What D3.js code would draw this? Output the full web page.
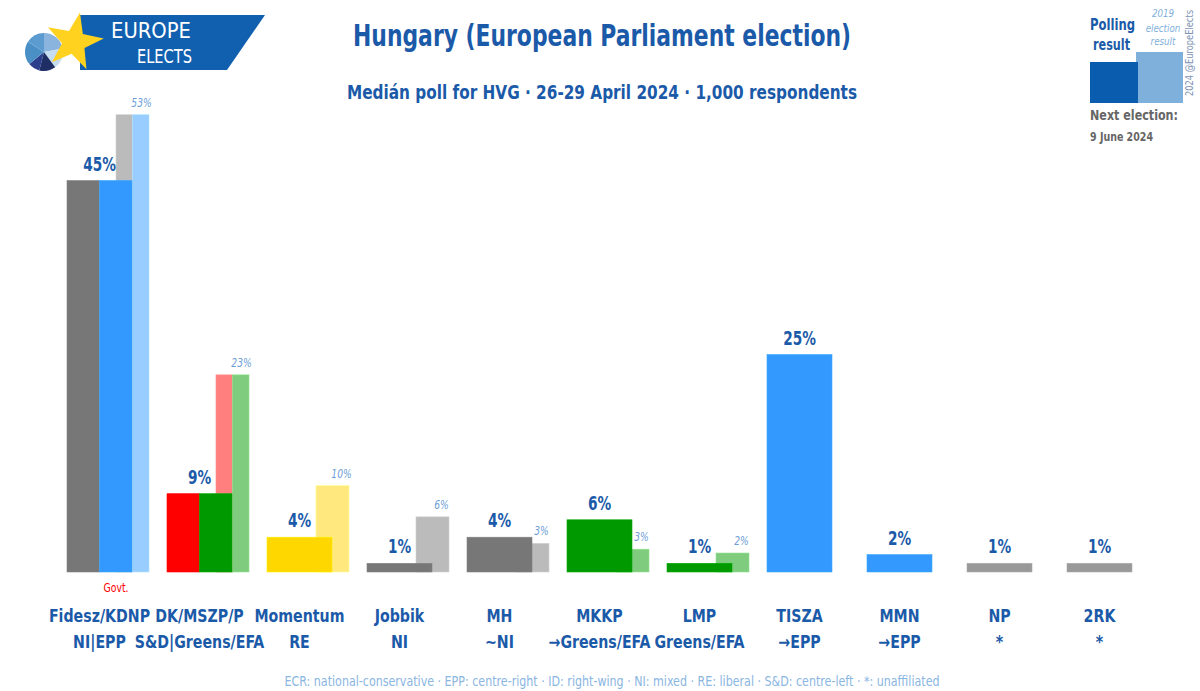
<!DOCTYPE html>
<html><head><meta charset="utf-8">
<script src="https://cdn.jsdelivr.net/npm/d3@7"></script>
<style>
html,body{margin:0;padding:0;background:#fff;}
svg{display:block;font-family:"DejaVu Sans Condensed","DejaVu Sans",sans-serif;}
</style></head>
<body>
<svg id="chart" width="1200" height="691"></svg>
<script>
// ---- data ----
const categories = ["Fidesz/KDNP","DK/MSZP/P","Momentum","Jobbik","MH","MKKP","LMP","TISZA","MMN","NP","2RK"];
const groups = ["NI|EPP","S&D|Greens/EFA","RE","NI","~NI","→Greens/EFA","Greens/EFA","→EPP","→EPP","*","*"];
const pollValues = [45,9,4,1,4,6,1,25,2,1,1];
const prev2019 = [52.56,22.66,9.93,6.34,3.29,2.62,2.18,null,null,null,null];
const pollColors = [["#777777","#3399FF"],["#FF0000","#009900"],["#FFD700"],["#777777"],["#777777"],["#009900"],["#009900"],["#3399FF"],["#3399FF"],["#999999"],["#999999"]];
const prevColors = [["#BBBBBB","#99CCFF"],["#FF7F7F","#7FCC7F"],["#FFE97F"],["#BBBBBB"],["#BBBBBB"],["#7FCC7F"],["#7FCC7F"],[],[],[],[]];
const govtParties = ["Fidesz/KDNP"];
const titleText = "Hungary (European Parliament election)";
const subtitleText = "Medián poll for HVG · 26-29 April 2024 · 1,000 respondents";
const footnoteText = "ECR: national-conservative · EPP: centre-right · ID: right-wing · NI: mixed · RE: liberal · S&D: centre-left · *: unaffiliated";

// ---- helpers ----
function condense(sel, factor){
  sel.each(function(){
    const w = this.getComputedTextLength();
    this.setAttribute("textLength", w*factor);
    this.setAttribute("lengthAdjust","spacingAndGlyphs");
  });
  return sel;
}
function fitWidth(sel, width){
  sel.attr("textLength", width).attr("lengthAdjust","spacingAndGlyphs");
  return sel;
}

// ---- layout ----
const svg = d3.select("#chart");
const DARK = "#1b5aa8";
const LIGHT = "#6e9fd6";
const x = d3.scaleBand().domain(categories).range([50,1150]).padding(0);
const y = d3.scaleLinear().domain([0,50]).range([572,137]);
const pollOff = 17, pollW = 65, prevOff = 66, prevW = 33;

const data = categories.map((c,i)=>({c,i,g:groups[i],v:pollValues[i],p:prev2019[i],pc:pollColors[i],qc:prevColors[i]}));

// previous-result bars (behind)
data.filter(d=>d.p!=null).forEach(d=>{
  const n = d.qc.length, w = prevW/n;
  d.qc.forEach((col,k)=>{
    svg.append("rect").attr("x", x(d.c)+prevOff+k*w)
      .attr("y", y(d.p)).attr("width", w).attr("height", y(0)-y(d.p))
      .attr("fill", col).attr("stroke", d3.color(col).brighter(0.3)).attr("stroke-width",0.6);
  });
  condense(svg.append("text").attr("x", x(d.c)+prevOff+prevW/2+9).attr("y", y(d.p)-8)
    .attr("text-anchor","middle").attr("font-size",12).attr("font-style","italic")
    .attr("fill", LIGHT).text(Math.round(d.p)+"%"), 0.85);
});

// polling bars
data.forEach(d=>{
  const n = d.pc.length, w = pollW/n;
  const cx = x(d.c)+pollOff+pollW/2;
  d.pc.forEach((col,k)=>{
    svg.append("rect").attr("x", x(d.c)+pollOff+k*w).attr("y", y(d.v))
      .attr("width", w).attr("height", y(0)-y(d.v))
      .attr("fill", col).attr("stroke", d3.color(col).brighter(0.3)).attr("stroke-width",0.6);
  });
  condense(svg.append("text").attr("x", cx).attr("y", y(d.v)-10)
    .attr("text-anchor","middle").attr("font-size",19).attr("font-weight","bold")
    .attr("fill", DARK).text(d.v+"%"), 0.8);
  if (govtParties.includes(d.c)) {
    condense(svg.append("text").attr("x", x(d.c)+66).attr("y", 592).attr("text-anchor","middle")
      .attr("font-size",11.5).attr("fill","#FF0000").text("Govt."), 0.9);
  }
  condense(svg.append("text").attr("x", cx).attr("y", 622)
    .attr("text-anchor","middle").attr("font-size",17.5).attr("font-weight","bold")
    .attr("fill", DARK).text(d.c), 0.9);
  condense(svg.append("text").attr("x", cx).attr("y", 648)
    .attr("text-anchor","middle").attr("font-size",17.5).attr("font-weight","bold")
    .attr("fill", DARK).text(d.g), 0.9);
});

// titles
fitWidth(svg.append("text").attr("x",602).attr("y",46).attr("text-anchor","middle")
  .attr("font-size",30).attr("font-weight","bold").attr("fill",DARK).text(titleText), 498);
fitWidth(svg.append("text").attr("x",602).attr("y",99).attr("text-anchor","middle")
  .attr("font-size",20).attr("font-weight","bold").attr("fill",DARK).text(subtitleText), 510);
fitWidth(svg.append("text").attr("x",612).attr("y",686).attr("text-anchor","middle")
  .attr("font-size",13.5).attr("fill","#8ab6e2").text(footnoteText), 655);

// legend (top right)
const lg = svg.append("g");
lg.append("rect").attr("x",1136).attr("y",52).attr("width",47).attr("height",51).attr("fill","#7fb0dc");
lg.append("rect").attr("x",1090).attr("y",62).attr("width",48).attr("height",41).attr("fill","#0a5cae");
fitWidth(lg.append("text").attr("x",1090).attr("y",30).attr("font-size",15).attr("font-weight","bold").attr("fill",DARK).text("Polling"), 45);
fitWidth(lg.append("text").attr("x",1093).attr("y",50).attr("font-size",15).attr("font-weight","bold").attr("fill",DARK).text("result"), 37);
[["2019",17],["election",32],["result",45]].forEach(([t,yy])=>{
  condense(lg.append("text").attr("x",1163).attr("y",yy).attr("text-anchor","middle").attr("font-size",11)
    .attr("font-style","italic").attr("fill","#7fb0dc").text(t), 0.88);
});
fitWidth(lg.append("text").attr("transform","translate(1193,53) rotate(-90)").attr("text-anchor","middle")
  .attr("font-size",10).attr("fill","#7d93b4").text("2024 @EuropeElects"), 86);
fitWidth(lg.append("text").attr("x",1090).attr("y",120).attr("font-size",14).attr("font-weight","bold").attr("fill","#666").text("Next election:"), 88);
fitWidth(lg.append("text").attr("x",1090).attr("y",141).attr("font-size",12).attr("font-weight","bold").attr("fill","#666").text("9 June 2024"), 63);

// logo
const logo = svg.append("g");
logo.append("polygon").attr("points","80,15 265,15 227,70 80,70").attr("fill","#1160b0");
const pie = d3.pie().sort(null)([22,18,14,10,20,16]);
const pieCols = ["#8ab4dd","#c6dcf1","#1f2f66","#2c3e8c","#4a8fc6","#5b9bd0"];
const arc = d3.arc().innerRadius(0).outerRadius(19);
logo.append("g").attr("transform","translate(44,52)").selectAll("path").data(pie).join("path")
  .attr("d",arc).attr("fill",(d,i)=>pieCols[i]);
const starPts = d3.range(10).map(k=>{const r = k%2===0?30:12; const a = -Math.PI/2 + k*Math.PI/5 + 0.2; return [74+r*Math.cos(a), 42+r*Math.sin(a)];});
logo.append("polygon").attr("points",starPts.map(p=>p.join(",")).join(" ")).attr("fill","#FFD21F");
fitWidth(logo.append("text").attr("x",111).attr("y",38).attr("font-size",22).attr("fill","#fff").text("EUROPE"), 80);
fitWidth(logo.append("text").attr("x",137).attr("y",63).attr("font-size",19).attr("fill","#fff").text("ELECTS"), 55);
</script>
</body></html>
